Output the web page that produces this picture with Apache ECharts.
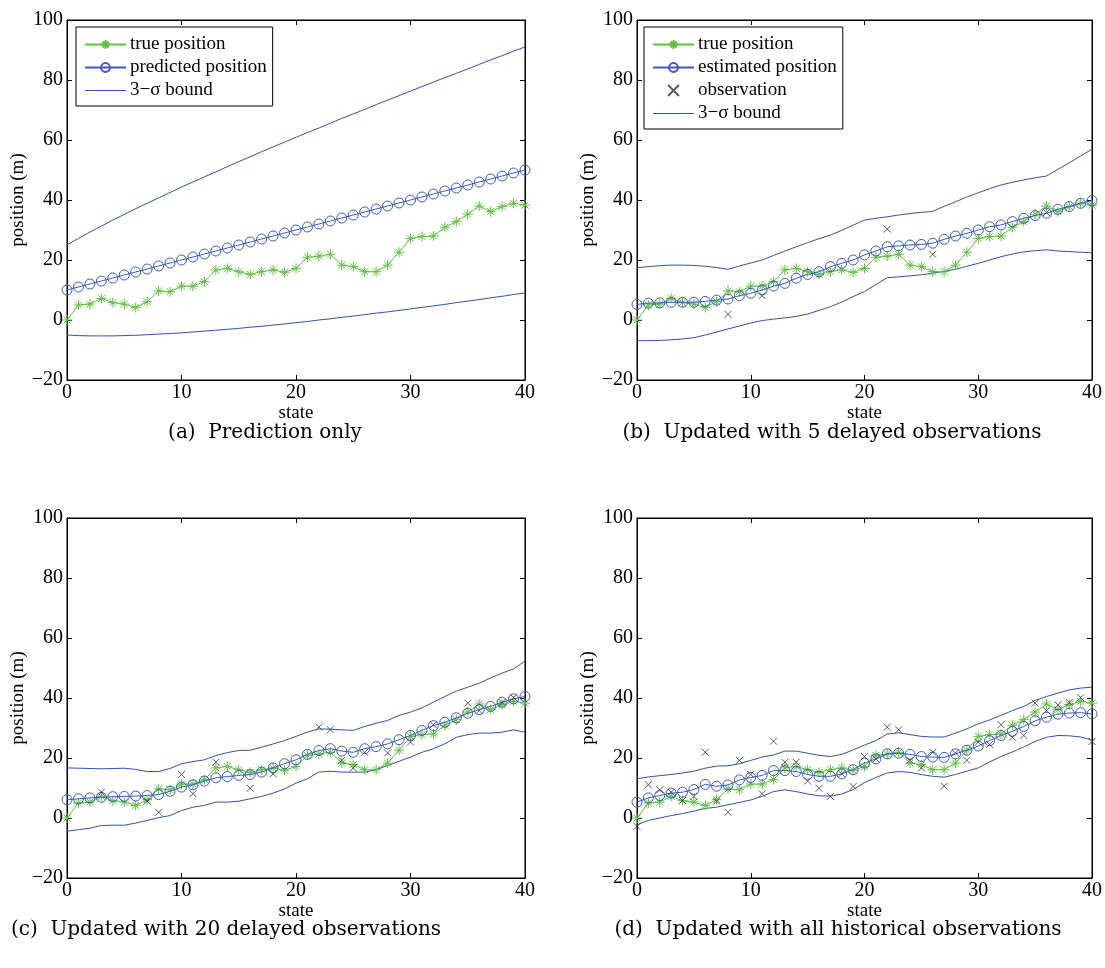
<!DOCTYPE html>
<html>
<head>
<meta charset="utf-8">
<script src="https://cdn.jsdelivr.net/npm/echarts@6/dist/echarts.min.js"></script>
<style>
  html, body { margin: 0; padding: 0; background: #fff; }
  #chart { width: 1105px; height: 968px; }
</style>
</head>
<body>
<div id="chart"></div>
<script>
// ---- data (state index 0..40) ----
const xTicks = [0, 10, 20, 30, 40];
const yTicks = [-20, 0, 20, 40, 60, 80, 100];

const truePosition = [0, 5, 5.3, 7.2, 5.8, 5.3, 4.2, 6.1, 9.7, 9.4, 11.3, 11.3, 12.8, 16.7, 17.2, 16.1, 15.2, 16.1, 16.7, 15.9, 17.2, 20.9, 21.3, 21.9, 18.3, 17.8, 16.1, 16.1, 18.3, 22.6, 27.2, 27.8, 28, 30.9, 32.8, 35.3, 38, 36.1, 37.8, 38.9, 38.3];

const observations = [-2.8, 11.1, 9.4, 8.6, 5.8, 7.2, 21.9, 5.6, 1.9, 19.2, 14.5, 8.1, 25.6, 18.6, 18.6, 12.3, 9.9, 7.2, 14.7, 10.5, 20.5, 19.7, 30.3, 29.4, 19.2, 16.7, 21.9, 10.6, 21.7, 19.2, 25.3, 24.5, 31.1, 26.9, 27.5, 38.3, 35.8, 37.7, 38.5, 40.1, 25.5];

// (a) prediction only
const predictedA = [10, 11, 12, 13, 14, 15, 16, 17, 18, 19, 20, 21, 22, 23, 24, 25, 26, 27, 28, 29, 30, 31, 32, 33, 34, 35, 36, 37, 38, 39, 40, 41, 42, 43, 44, 45, 46, 47, 48, 49, 50];
const upperA = [25, 27.2, 29.3, 31.3, 33.3, 35.2, 37.1, 38.9, 40.7, 42.5, 44.3, 46.0, 47.7, 49.4, 51.1, 52.8, 54.4, 56.1, 57.7, 59.3, 60.9, 62.5, 64.0, 65.6, 67.2, 68.7, 70.2, 71.8, 73.3, 74.8, 76.3, 77.8, 79.3, 80.8, 82.2, 83.7, 85.2, 86.7, 88.1, 89.6, 91];
const lowerA = [-5, -5.2, -5.3, -5.3, -5.3, -5.2, -5.1, -4.9, -4.7, -4.5, -4.3, -4.0, -3.7, -3.4, -3.1, -2.8, -2.4, -2.1, -1.7, -1.3, -0.9, -0.5, 0.0, 0.4, 0.9, 1.3, 1.8, 2.3, 2.7, 3.2, 3.7, 4.2, 4.7, 5.2, 5.8, 6.3, 6.8, 7.4, 7.9, 8.5, 9];

// (b) 5 delayed observations
const obsStatesB = [8, 11, 22, 26, 36];
const estimateB = [5.2, 5.6, 5.7, 5.9, 5.9, 5.9, 6.2, 6.6, 7.0, 8.1, 8.9, 10.0, 11.3, 12.2, 13.9, 15.2, 16.1, 17.8, 18.9, 20.0, 21.7, 23.0, 24.4, 24.7, 25.0, 25.2, 25.6, 26.9, 28.0, 28.9, 30.0, 31.1, 31.7, 32.8, 33.9, 34.8, 35.6, 36.9, 37.8, 38.9, 39.8];
const upperB = [17.4, 17.8, 18.1, 18.3, 18.3, 18.2, 17.9, 17.5, 16.9, 18.0, 19.0, 20.0, 21.5, 23.0, 24.4, 25.8, 27.1, 28.3, 29.9, 31.6, 33.3, 33.9, 34.4, 35.0, 35.5, 35.9, 36.2, 37.9, 39.4, 41.0, 42.4, 43.8, 45.0, 45.9, 46.7, 47.4, 48.0, 50.2, 52.4, 54.7, 56.9];
const lowerB = [-6.9, -6.9, -6.8, -6.6, -6.3, -5.9, -5.0, -4.0, -3.0, -2.0, -1.0, -0.2, 0.3, 0.7, 1.2, 2.0, 3.2, 4.4, 6.0, 7.8, 9.5, 11.8, 14.1, 14.4, 14.7, 15.1, 15.6, 16.2, 16.9, 17.9, 18.9, 20.0, 21.1, 22.0, 22.7, 23.1, 23.4, 23.0, 22.8, 22.6, 22.4];

// (c) 20 delayed observations
const obsStatesC = [3, 7, 8, 10, 11, 13, 16, 18, 22, 23, 24, 25, 26, 28, 30, 32, 35, 36, 38, 39];
const estimateC = [6.1, 6.4, 6.7, 6.9, 7.1, 7.2, 7.3, 7.5, 7.8, 8.9, 10.3, 11.1, 12.3, 13.4, 13.8, 14.2, 14.5, 15.3, 16.7, 18.1, 19.4, 21.2, 22.5, 23.1, 22.3, 21.9, 23.1, 23.8, 24.7, 26.1, 27.5, 29.2, 30.8, 31.9, 33.4, 34.9, 36.1, 37.2, 38.6, 39.7, 40.5];
const upperC = [16.7, 16.6, 16.5, 16.4, 16.5, 16.6, 16.2, 15.5, 15.5, 16.5, 18.1, 18.8, 19.4, 20.8, 21.8, 22.5, 22.6, 23.6, 24.7, 25.8, 27.2, 28.6, 29.7, 29.6, 29.4, 29.2, 30.5, 31.6, 32.5, 34.2, 35.3, 36.7, 38.6, 40.5, 42.3, 43.6, 44.9, 46.7, 48.3, 49.7, 52.3];
const lowerC = [-4.4, -3.9, -3.4, -2.5, -2.4, -2.4, -1.7, -0.8, 0.1, 0.8, 2.5, 3.6, 4.2, 5.3, 5.3, 5.6, 6.4, 7.2, 8.3, 9.7, 11.6, 13.1, 15.3, 15.6, 15.3, 15.3, 15.3, 16.1, 17.5, 18.9, 20.3, 21.9, 23.1, 24.7, 26.9, 27.8, 28.3, 28.3, 28.6, 29.4, 28.6];

// (d) all historical observations
const estimateD = [5.3, 6.7, 7.5, 8.3, 8.6, 9.5, 11.2, 10.6, 11.0, 12.7, 13.5, 14.2, 15.8, 15.8, 15.5, 14.5, 13.9, 13.9, 14.7, 16.1, 18.3, 19.7, 21.4, 21.6, 21.2, 20.5, 20.3, 20.2, 21.4, 22.6, 24.0, 25.8, 27.5, 28.9, 30.5, 32.4, 33.6, 34.6, 35.0, 35.1, 34.7];
const upperD = [13.1, 13.7, 14.1, 14.5, 15.0, 15.6, 16.6, 17.3, 17.4, 18.1, 19.2, 20.3, 21.0, 22.3, 22.3, 21.6, 20.9, 20.5, 21.2, 22.7, 24.3, 25.8, 28.0, 28.4, 27.8, 27.2, 27.0, 27.0, 28.3, 29.7, 31.4, 32.7, 34.2, 35.8, 37.2, 39.2, 40.5, 41.6, 42.7, 43.3, 43.6];
const lowerD = [-2.3, -0.8, 0.0, 0.8, 1.5, 2.3, 3.2, 3.6, 4.4, 5.2, 6.0, 7.2, 8.8, 9.4, 8.8, 8.0, 7.4, 7.3, 8.0, 9.5, 11.8, 13.5, 15.0, 15.5, 15.2, 14.5, 13.9, 13.6, 14.5, 15.6, 16.7, 18.7, 20.5, 22.0, 23.7, 25.5, 26.9, 27.5, 27.4, 27.0, 26.0];

const captions = [
  '(a)  Prediction only',
  '(b)  Updated with 5 delayed observations',
  '(c)  Updated with 20 delayed observations',
  '(d)  Updated with all historical observations'
];

// ---- styling ----
const SERIF = '"Liberation Serif", "Times New Roman", serif';
const CAPTION_FONT = '"DejaVu Serif", serif';
const GREEN = '#5fc13f';
const BLUE = '#3b5bbf';
const BOUND = '#3350b0';
const CROSS = '#333333';
const BOUND_NAME = '3\u2212\u03c3 bound';

const STAR = 'path://M5,0L5,10M0,5L10,5M1.5,1.5L8.5,8.5M8.5,1.5L1.5,8.5';
const CROSS_PATH = 'path://M0,0L10,10M10,0L0,10';
const LINE_ICON = 'path://M0,0L40,0L40,1L0,1Z';

const panels = [
  { left: 67, top: 20, width: 458 },
  { left: 637, top: 20, width: 456 },
  { left: 67, top: 518, width: 458 },
  { left: 637, top: 518, width: 456 }
];

const pairs = arr => arr.map((v, i) => [i, v]);
const pick = idx => idx.map(k => [k, observations[k]]);
const minus = v => String(v).replace('-', '\u2212');

const grid = [], xAxis = [], yAxis = [], series = [];

panels.forEach((p, i) => {
  grid.push({
    left: p.left, top: p.top, width: p.width, height: 360,
    show: true, borderColor: '#000', borderWidth: 1, backgroundColor: '#fff'
  });
  const common = {
    gridIndex: i, type: 'value', splitLine: { show: false },
    axisLine: { show: true, onZero: false, lineStyle: { color: '#000', width: 1 } },
    axisTick: { show: true, inside: true, length: 5, lineStyle: { color: '#000' } }
  };
  xAxis.push(Object.assign({}, common, {
    position: 'bottom', min: xTicks[0], max: xTicks[xTicks.length - 1], interval: 10,
    name: 'state', nameLocation: 'middle', nameGap: 22,
    nameTextStyle: { fontFamily: SERIF, fontSize: 19, color: '#000' },
    axisLabel: { fontFamily: SERIF, fontSize: 20, color: '#000', margin: 3, formatter: minus }
  }));
  xAxis.push(Object.assign({}, common, {
    position: 'top', min: xTicks[0], max: xTicks[xTicks.length - 1], interval: 10,
    axisLabel: { show: false }
  }));
  yAxis.push(Object.assign({}, common, {
    position: 'left', min: yTicks[0], max: yTicks[yTicks.length - 1], interval: 20,
    name: 'position (m)', nameLocation: 'middle', nameGap: 36, nameRotate: 90,
    nameTextStyle: { fontFamily: SERIF, fontSize: 19, color: '#000' },
    axisLabel: { fontFamily: SERIF, fontSize: 20, color: '#000', margin: 4, formatter: minus }
  }));
  yAxis.push(Object.assign({}, common, {
    position: 'right', min: yTicks[0], max: yTicks[yTicks.length - 1], interval: 20,
    axisLabel: { show: false }
  }));
});

function addPanel(i, estName, estimate, upper, lower, obsPoints) {
  const xi = i * 2, yi = i * 2;
  series.push({
    name: 'true position', type: 'line', xAxisIndex: xi, yAxisIndex: yi,
    data: pairs(truePosition), symbol: STAR, symbolSize: 10, showAllSymbol: true,
    lineStyle: { color: GREEN, width: 1 },
    itemStyle: { color: 'rgba(0,0,0,0)', borderColor: GREEN, borderWidth: 1 },
    emphasis: { disabled: true }, animation: false, z: 3
  });
  series.push({
    name: estName, type: 'line', xAxisIndex: xi, yAxisIndex: yi,
    data: pairs(estimate), symbol: 'circle', symbolSize: 10, showAllSymbol: true,
    lineStyle: { color: BLUE, width: 1 },
    itemStyle: { color: 'rgba(0,0,0,0)', borderColor: BLUE, borderWidth: 1 },
    emphasis: { disabled: true }, animation: false, z: 4
  });
  if (obsPoints) {
    series.push({
      name: 'observation', type: 'scatter', xAxisIndex: xi, yAxisIndex: yi,
      data: obsPoints, symbol: CROSS_PATH, symbolSize: 7,
      itemStyle: { color: 'rgba(0,0,0,0)', borderColor: CROSS, borderWidth: 1 },
      emphasis: { disabled: true }, animation: false, z: 5
    });
  }
  [upper, lower].forEach(b => {
    series.push({
      name: BOUND_NAME, type: 'line', xAxisIndex: xi, yAxisIndex: yi,
      data: pairs(b), symbol: 'none',
      lineStyle: { color: BOUND, width: 1 },
      itemStyle: { color: BOUND },
      emphasis: { disabled: true }, animation: false, z: 2
    });
  });
}

addPanel(0, 'predicted position', predictedA, upperA, lowerA, null);
addPanel(1, 'estimated position', estimateB, upperB, lowerB, pick(obsStatesB));
addPanel(2, 'estimated position ', estimateC, upperC, lowerC, pick(obsStatesC));
addPanel(3, 'estimated position  ', estimateD, upperD, lowerD, pairs(observations));

const legendBase = {
  orient: 'vertical', itemWidth: 41, itemHeight: 11, itemGap: 4,
  padding: [8, 6, 6, 8], borderColor: '#000', borderWidth: 1, backgroundColor: '#fff',
  textStyle: { fontFamily: SERIF, fontSize: 19, color: '#000', lineHeight: 15, padding: [0, 0, 0, -1] },
  selectedMode: false, z: 10
};
const boundEntry = { name: BOUND_NAME, icon: LINE_ICON, itemStyle: { color: BOUND } };

const legend = [
  Object.assign({}, legendBase, { left: 76, top: 27, data: ['true position', 'predicted position', boundEntry] }),
  Object.assign({}, legendBase, { left: 644, top: 27, data: ['true position', 'estimated position', 'observation', boundEntry] })
];

const captionPos = [[265, 433], [832, 433], [226, 930], [838, 930]];
const graphic = captions.map((t, i) => ({
  type: 'text', x: captionPos[i][0], y: captionPos[i][1],
  style: { text: t, font: '20px ' + CAPTION_FONT, fill: '#000', align: 'center', verticalAlign: 'middle' }
}));

const chart = echarts.init(document.getElementById('chart'), null, { renderer: 'canvas' });
chart.setOption({
  backgroundColor: '#fff',
  animation: false,
  grid, xAxis, yAxis, series, legend, graphic
});
</script>
</body>
</html>
